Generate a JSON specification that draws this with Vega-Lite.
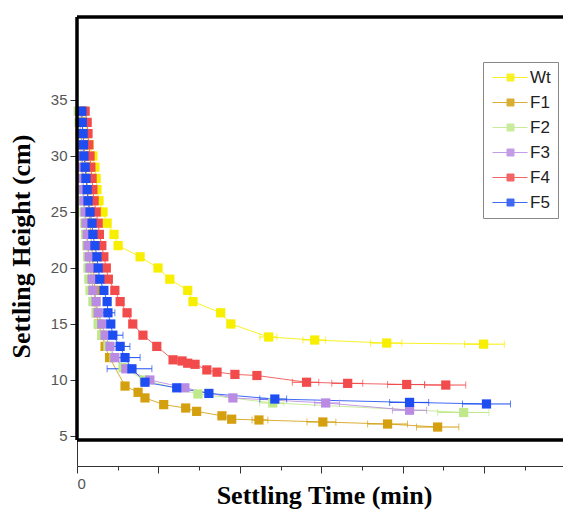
{
  "$schema": "https://vega.github.io/schema/vega-lite/v6.json",
  "autosize": {"type": "none"},
  "width": 486,
  "height": 449,
  "padding": {"left": 77, "top": 17, "right": 0, "bottom": 46},
  "background": "white",
  "config": {"view": {"stroke": null}},
  "datasets": {
    "d": [
      {"s": "Wt", "t": 1.5, "h": 34}, {"s": "Wt", "t": 2.0, "h": 33}, {"s": "Wt", "t": 2.5, "h": 32}, {"s": "Wt", "t": 3.0, "h": 31},
      {"s": "Wt", "t": 3.9, "h": 30}, {"s": "Wt", "t": 4.4, "h": 29}, {"s": "Wt", "t": 4.7, "h": 28}, {"s": "Wt", "t": 4.9, "h": 27},
      {"s": "Wt", "t": 5.4, "h": 26}, {"s": "Wt", "t": 6.4, "h": 25}, {"s": "Wt", "t": 7.4, "h": 24}, {"s": "Wt", "t": 9.1, "h": 23},
      {"s": "Wt", "t": 10.1, "h": 22}, {"s": "Wt", "t": 15.5, "h": 21}, {"s": "Wt", "t": 19.9, "h": 20}, {"s": "Wt", "t": 22.8, "h": 19},
      {"s": "Wt", "t": 27.2, "h": 18}, {"s": "Wt", "t": 28.5, "h": 17}, {"s": "Wt", "t": 35.3, "h": 16}, {"s": "Wt", "t": 37.8, "h": 15},
      {"s": "Wt", "t": 47.1, "h": 13.84, "lo": 44.9, "hi": 49.1}, {"s": "Wt", "t": 58.4, "h": 13.57, "lo": 55.5, "hi": 61.1},
      {"s": "Wt", "t": 76.1, "h": 13.3, "lo": 72.1, "hi": 79.8}, {"s": "Wt", "t": 99.9, "h": 13.2, "lo": 95.2, "hi": 105.0},

      {"s": "F1", "t": 1.0, "h": 34}, {"s": "F1", "t": 1.2, "h": 33}, {"s": "F1", "t": 1.5, "h": 32}, {"s": "F1", "t": 1.7, "h": 31},
      {"s": "F1", "t": 2.0, "h": 30}, {"s": "F1", "t": 2.2, "h": 29}, {"s": "F1", "t": 2.4, "h": 28}, {"s": "F1", "t": 2.6, "h": 27},
      {"s": "F1", "t": 2.8, "h": 26}, {"s": "F1", "t": 3.0, "h": 25}, {"s": "F1", "t": 3.2, "h": 24}, {"s": "F1", "t": 3.4, "h": 23},
      {"s": "F1", "t": 3.6, "h": 22}, {"s": "F1", "t": 3.8, "h": 21}, {"s": "F1", "t": 4.0, "h": 20}, {"s": "F1", "t": 4.2, "h": 19},
      {"s": "F1", "t": 4.4, "h": 18}, {"s": "F1", "t": 4.6, "h": 17}, {"s": "F1", "t": 4.8, "h": 16}, {"s": "F1", "t": 5.3, "h": 15},
      {"s": "F1", "t": 6.2, "h": 14}, {"s": "F1", "t": 6.9, "h": 13}, {"s": "F1", "t": 8.0, "h": 12}, {"s": "F1", "t": 11.8, "h": 9.46},
      {"s": "F1", "t": 15.0, "h": 8.9}, {"s": "F1", "t": 16.7, "h": 8.4}, {"s": "F1", "t": 21.3, "h": 7.8}, {"s": "F1", "t": 26.7, "h": 7.5},
      {"s": "F1", "t": 29.4, "h": 7.2}, {"s": "F1", "t": 35.6, "h": 6.8}, {"s": "F1", "t": 38.0, "h": 6.5},
      {"s": "F1", "t": 44.7, "h": 6.43, "lo": 43.0, "hi": 46.9}, {"s": "F1", "t": 60.4, "h": 6.25, "lo": 56.5, "hi": 63.6},
      {"s": "F1", "t": 76.3, "h": 6.07, "lo": 71.4, "hi": 81.2}, {"s": "F1", "t": 88.6, "h": 5.8, "lo": 83.4, "hi": 93.8},

      {"s": "F2", "t": 0.3, "h": 34}, {"s": "F2", "t": 0.5, "h": 33}, {"s": "F2", "t": 0.7, "h": 32}, {"s": "F2", "t": 0.8, "h": 31},
      {"s": "F2", "t": 1.0, "h": 30}, {"s": "F2", "t": 1.1, "h": 29}, {"s": "F2", "t": 1.2, "h": 28}, {"s": "F2", "t": 1.3, "h": 27},
      {"s": "F2", "t": 1.5, "h": 26}, {"s": "F2", "t": 1.7, "h": 25}, {"s": "F2", "t": 1.9, "h": 24}, {"s": "F2", "t": 2.1, "h": 23},
      {"s": "F2", "t": 2.4, "h": 22}, {"s": "F2", "t": 2.6, "h": 21}, {"s": "F2", "t": 2.7, "h": 20}, {"s": "F2", "t": 2.9, "h": 19},
      {"s": "F2", "t": 3.2, "h": 18}, {"s": "F2", "t": 3.9, "h": 17}, {"s": "F2", "t": 4.7, "h": 16}, {"s": "F2", "t": 5.2, "h": 15},
      {"s": "F2", "t": 6.1, "h": 14}, {"s": "F2", "t": 7.6, "h": 13}, {"s": "F2", "t": 9.1, "h": 12}, {"s": "F2", "t": 11.3, "h": 11.1},
      {"s": "F2", "t": 16.5, "h": 10.0}, {"s": "F2", "t": 29.7, "h": 8.75},
      {"s": "F2", "t": 48.1, "h": 7.95, "lo": 44.9, "hi": 50.8}, {"s": "F2", "t": 95.0, "h": 7.1, "lo": 88.6, "hi": 101.2},

      {"s": "F3", "t": 0.7, "h": 34}, {"s": "F3", "t": 0.8, "h": 33}, {"s": "F3", "t": 1.0, "h": 32}, {"s": "F3", "t": 1.2, "h": 31},
      {"s": "F3", "t": 1.3, "h": 30}, {"s": "F3", "t": 1.4, "h": 29}, {"s": "F3", "t": 1.5, "h": 28}, {"s": "F3", "t": 1.6, "h": 27},
      {"s": "F3", "t": 1.7, "h": 26}, {"s": "F3", "t": 2.0, "h": 25}, {"s": "F3", "t": 2.2, "h": 24}, {"s": "F3", "t": 2.5, "h": 23},
      {"s": "F3", "t": 2.7, "h": 22}, {"s": "F3", "t": 3.0, "h": 21}, {"s": "F3", "t": 3.2, "h": 20}, {"s": "F3", "t": 3.7, "h": 19},
      {"s": "F3", "t": 3.9, "h": 18}, {"s": "F3", "t": 4.7, "h": 17}, {"s": "F3", "t": 5.2, "h": 16}, {"s": "F3", "t": 6.1, "h": 15},
      {"s": "F3", "t": 6.9, "h": 14}, {"s": "F3", "t": 8.1, "h": 13}, {"s": "F3", "t": 9.3, "h": 12}, {"s": "F3", "t": 12.0, "h": 11},
      {"s": "F3", "t": 17.9, "h": 10.0}, {"s": "F3", "t": 26.5, "h": 9.3}, {"s": "F3", "t": 38.3, "h": 8.4},
      {"s": "F3", "t": 61.1, "h": 7.95, "lo": 58.4, "hi": 64.5}, {"s": "F3", "t": 81.7, "h": 7.3, "lo": 77.5, "hi": 85.9},

      {"s": "F4", "t": 2.0, "h": 34}, {"s": "F4", "t": 2.5, "h": 33}, {"s": "F4", "t": 2.7, "h": 32}, {"s": "F4", "t": 2.9, "h": 31},
      {"s": "F4", "t": 3.2, "h": 30}, {"s": "F4", "t": 3.4, "h": 29}, {"s": "F4", "t": 3.7, "h": 28}, {"s": "F4", "t": 3.9, "h": 27},
      {"s": "F4", "t": 4.2, "h": 26}, {"s": "F4", "t": 4.7, "h": 25}, {"s": "F4", "t": 5.2, "h": 24}, {"s": "F4", "t": 5.5, "h": 23},
      {"s": "F4", "t": 6.1, "h": 22}, {"s": "F4", "t": 6.6, "h": 21}, {"s": "F4", "t": 7.2, "h": 20}, {"s": "F4", "t": 7.7, "h": 19},
      {"s": "F4", "t": 9.3, "h": 18}, {"s": "F4", "t": 10.6, "h": 17}, {"s": "F4", "t": 12.3, "h": 16}, {"s": "F4", "t": 13.7, "h": 15},
      {"s": "F4", "t": 16.2, "h": 14}, {"s": "F4", "t": 19.6, "h": 13}, {"s": "F4", "t": 23.6, "h": 11.8}, {"s": "F4", "t": 25.8, "h": 11.7},
      {"s": "F4", "t": 27.2, "h": 11.5}, {"s": "F4", "t": 29.0, "h": 11.4}, {"s": "F4", "t": 31.9, "h": 10.9}, {"s": "F4", "t": 34.4, "h": 10.7},
      {"s": "F4", "t": 38.8, "h": 10.5}, {"s": "F4", "t": 44.2, "h": 10.4},
      {"s": "F4", "t": 56.4, "h": 9.8, "lo": 52.9, "hi": 59.4}, {"s": "F4", "t": 66.5, "h": 9.7, "lo": 62.6, "hi": 70.2},
      {"s": "F4", "t": 81.0, "h": 9.6, "lo": 76.3, "hi": 85.4}, {"s": "F4", "t": 90.6, "h": 9.55, "lo": 85.4, "hi": 95.5},

      {"s": "F5", "t": 1.2, "h": 34}, {"s": "F5", "t": 1.3, "h": 33}, {"s": "F5", "t": 1.5, "h": 32}, {"s": "F5", "t": 1.6, "h": 31},
      {"s": "F5", "t": 1.7, "h": 30}, {"s": "F5", "t": 2.0, "h": 29}, {"s": "F5", "t": 2.2, "h": 28}, {"s": "F5", "t": 2.5, "h": 27},
      {"s": "F5", "t": 2.7, "h": 26}, {"s": "F5", "t": 3.2, "h": 25}, {"s": "F5", "t": 3.7, "h": 24}, {"s": "F5", "t": 3.9, "h": 23},
      {"s": "F5", "t": 4.4, "h": 22}, {"s": "F5", "t": 4.9, "h": 21}, {"s": "F5", "t": 5.2, "h": 20}, {"s": "F5", "t": 5.6, "h": 19},
      {"s": "F5", "t": 6.6, "h": 18}, {"s": "F5", "t": 7.4, "h": 17},
      {"s": "F5", "t": 7.6, "h": 16, "lo": 6.4, "hi": 9.3}, {"s": "F5", "t": 8.3, "h": 15},
      {"s": "F5", "t": 8.8, "h": 14, "lo": 7.4, "hi": 11.3}, {"s": "F5", "t": 10.6, "h": 13, "lo": 7.6, "hi": 13.0},
      {"s": "F5", "t": 11.8, "h": 12, "lo": 7.6, "hi": 15.5}, {"s": "F5", "t": 13.5, "h": 11, "lo": 7.4, "hi": 18.4},
      {"s": "F5", "t": 16.7, "h": 9.8}, {"s": "F5", "t": 24.5, "h": 9.3}, {"s": "F5", "t": 32.4, "h": 8.8},
      {"s": "F5", "t": 48.6, "h": 8.3, "lo": 44.9, "hi": 51.5}, {"s": "F5", "t": 81.7, "h": 8.0, "lo": 76.8, "hi": 86.4},
      {"s": "F5", "t": 100.6, "h": 7.86, "lo": 94.7, "hi": 106.5}
    ],
    "frame": [{"k": 1}]
  },
  "layer": [
    {
      "data": {"name": "d"},
      "mark": {"type": "line", "strokeWidth": 1, "opacity": 0.85},
      "encoding": {
        "x": {
          "field": "t", "type": "quantitative",
          "scale": {"domain": [0, 119.4], "nice": false, "zero": false},
          "axis": {
            "title": "Settling Time (min)",
            "values": [0, 10, 20, 30, 40, 50, 60, 70, 80, 90, 100, 110],
            "labelExpr": "datum.value == 0 ? '0' : ''",
            "tickSize": {"condition": {"test": "datum.value % 20 == 0", "value": 7}, "value": 4},
            "grid": false, "domainColor": "#333", "tickColor": "#333",
            "labelColor": "#555", "labelFont": "Liberation Sans", "labelFontSize": 15, "labelPadding": 3,
            "titleFont": "Liberation Serif", "titleFontWeight": "bold", "titleFontSize": 26, "titleColor": "black",
            "titleX": 247, "titleY": 37, "titleBaseline": "alphabetic", "titleAlign": "center"
          }
        },
        "y": {
          "field": "h", "type": "quantitative",
          "scale": {"domain": [2.321, 42.41], "nice": false, "zero": false},
          "axis": {
            "title": "Settling Height (cm)",
            "values": [5, 7.5, 10, 12.5, 15, 17.5, 20, 22.5, 25, 27.5, 30, 32.5, 35, 37.5],
            "labelExpr": "datum.value % 5 == 0 ? datum.label : ''",
            "tickSize": {"condition": {"test": "datum.value % 5 == 0", "value": 7}, "value": 5},
            "grid": false, "domainColor": "#333", "tickColor": "#333",
            "labelColor": "#555", "labelFont": "Liberation Sans", "labelFontSize": 15, "labelPadding": 3,
            "titleFont": "Liberation Serif", "titleFontWeight": "bold", "titleFontSize": 26, "titleColor": "black",
            "titleX": -48, "titleY": 229, "titleBaseline": "alphabetic", "titleAlign": "center", "titleAngle": 270
          }
        },
        "color": {"field": "s", "type": "nominal",
          "scale": {"domain": ["Wt", "F1", "F2", "F3", "F4", "F5"], "range": ["#f8ee00", "#d4a010", "#bfe98a", "#b98be3", "#f24b4b", "#1e4ef2"]}},
        "order": {"field": "h", "sort": "descending"}
      }
    },
    {
      "data": {"name": "d"},
      "transform": [{"filter": "isValid(datum.lo)"}],
      "mark": {"type": "errorbar", "ticks": {"size": 7, "thickness": 1}, "thickness": 1},
      "encoding": {
        "x": {"field": "lo", "type": "quantitative", "title": "Settling Time (min)"},
        "x2": {"field": "hi"},
        "y": {"field": "h", "type": "quantitative", "title": "Settling Height (cm)"},
        "color": {"field": "s", "type": "nominal"}
      }
    },
    {
      "data": {"name": "d"},
      "mark": {"type": "point", "shape": "square", "filled": true, "size": 85, "opacity": 1},
      "encoding": {
        "x": {"field": "t", "type": "quantitative", "title": "Settling Time (min)"},
        "y": {"field": "h", "type": "quantitative", "title": "Settling Height (cm)"},
        "color": {"field": "s", "type": "nominal",
          "legend": {
            "orient": "none", "legendX": 406, "legendY": 45, "title": null,
            "symbolType": "M-1.71,0H8.29M2.43,-1H4.43V1H2.43Z", "symbolSize": 49, "symbolStrokeWidth": 1,
            "labelFont": "Liberation Sans", "labelFontSize": 17, "labelColor": "#222", "labelOffset": 23,
            "rowPadding": 7, "padding": 7, "strokeColor": "#888", "fillColor": "white",
            "encode": {"symbols": {"update": {"stroke": {"scale": "color", "field": "value"}, "strokeWidth": {"value": 1}}}}
          }
        }
      }
    },
    {
      "data": {"name": "frame"},
      "mark": {"type": "rule", "color": "black", "strokeWidth": 3.5},
      "encoding": {"x": {"datum": 0, "type": "quantitative"}, "x2": {"datum": 150}, "y": {"datum": 42.41, "type": "quantitative"}}
    },
    {
      "data": {"name": "frame"},
      "mark": {"type": "rule", "color": "black", "strokeWidth": 3.5},
      "encoding": {"x": {"datum": 0, "type": "quantitative"}, "x2": {"datum": 150}, "y": {"datum": 4.64, "type": "quantitative"}}
    },
    {
      "data": {"name": "frame"},
      "mark": {"type": "rule", "color": "black", "strokeWidth": 3.5},
      "encoding": {"x": {"datum": 0, "type": "quantitative"}, "y": {"datum": 4.64, "type": "quantitative"}, "y2": {"datum": 42.41}}
    }
  ]
}
